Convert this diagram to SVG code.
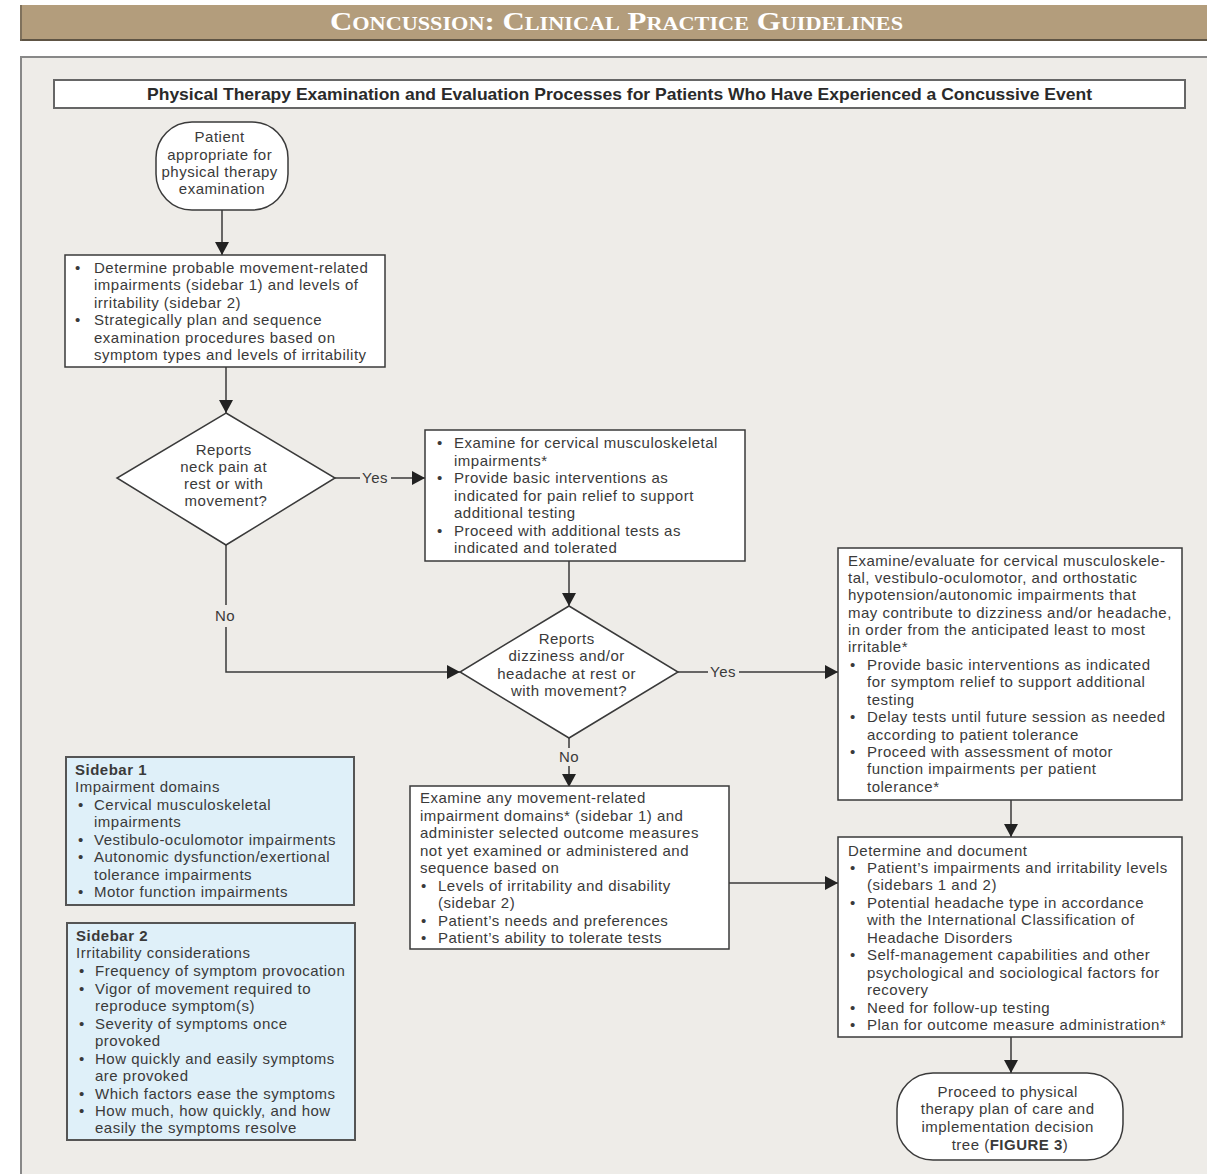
<svg xmlns="http://www.w3.org/2000/svg" width="1207" height="1174" viewBox="0 0 1207 1174">
  <style>
    text { font-family: "Liberation Sans", Arial, sans-serif; font-size: 15px; letter-spacing: 0.5px; fill: #3a3a3a; }
    .c { text-anchor: middle; }
    .b { font-weight: bold; }
    .box { fill: #ffffff; stroke: #3a3a3a; stroke-width: 1.5; }
    .side { fill: #dff0f9; stroke: #555555; stroke-width: 2; }
    .ln { fill: none; stroke: #3a3a3a; stroke-width: 1.5; }
    .hd { font-family: "Liberation Serif", "Times New Roman", serif; font-size: 25px; font-weight: bold; font-variant: small-caps; fill: #ffffff; letter-spacing: 0; }
    .tt { font-size: 17px; font-weight: bold; letter-spacing: 0; fill: #2a2a2a; }
  </style>
  <defs>
    <marker id="arr" markerUnits="userSpaceOnUse" markerWidth="14" markerHeight="14" viewBox="0 0 14 14" refX="13" refY="7" orient="auto">
      <path d="M0,0 L13,7 L0,14 Z" fill="#222222"/>
    </marker>
  </defs>

  <!-- page background -->
  <rect x="0" y="0" width="1207" height="1174" fill="#ffffff"/>

  <!-- running header -->
  <g id="header">
    <rect x="20" y="5" width="1187" height="36" fill="#b39d7c"/>
    <line x1="20" y1="40" x2="1207" y2="40" stroke="#5e5444" stroke-width="2"/>
    <line x1="21" y1="5" x2="21" y2="41" stroke="#6e6352" stroke-width="1.5"/>
    <text class="hd" x="330" y="30" textLength="573" lengthAdjust="spacingAndGlyphs">Concussion: Clinical Practice Guidelines</text>
  </g>

  <!-- figure panel -->
  <rect x="21" y="57" width="1200" height="1130" fill="#eeece8" stroke="#888888" stroke-width="2"/>

  <g id="title">
    <rect x="54" y="80" width="1131" height="28" fill="#ffffff" stroke="#666666" stroke-width="2"/>
    <text class="tt" x="147" y="100" textLength="945" lengthAdjust="spacingAndGlyphs">Physical Therapy Examination and Evaluation Processes for Patients Who Have Experienced a Concussive Event</text>
  </g>

  <!-- connectors -->
  <g id="connectors">
    <line class="ln" x1="222" y1="210" x2="222" y2="255" marker-end="url(#arr)"/>
    <line class="ln" x1="226" y1="367" x2="226" y2="413" marker-end="url(#arr)"/>
    <line class="ln" x1="335" y1="478" x2="360" y2="478"/>
    <line class="ln" x1="391" y1="478" x2="425" y2="478" marker-end="url(#arr)"/>
    <text x="362" y="483">Yes</text>
    <polyline class="ln" points="226,545 226,605"/>
    <polyline class="ln" points="226,627 226,672 460,672" marker-end="url(#arr)"/>
    <text class="c" x="225" y="621">No</text>
    <line class="ln" x1="569" y1="561" x2="569" y2="606" marker-end="url(#arr)"/>
    <line class="ln" x1="678" y1="672" x2="708" y2="672"/>
    <line class="ln" x1="739" y1="672" x2="838" y2="672" marker-end="url(#arr)"/>
    <text x="710" y="677">Yes</text>
    <line class="ln" x1="569" y1="738" x2="569" y2="748"/>
    <line class="ln" x1="569" y1="766" x2="569" y2="787" marker-end="url(#arr)"/>
    <text class="c" x="569" y="762">No</text>
    <line class="ln" x1="729" y1="883" x2="838" y2="883" marker-end="url(#arr)"/>
    <line class="ln" x1="1011" y1="800" x2="1011" y2="837" marker-end="url(#arr)"/>
    <line class="ln" x1="1011" y1="1037" x2="1011" y2="1073" marker-end="url(#arr)"/>
  </g>

  <!-- start terminator -->
  <g id="start">
    <rect class="box" x="156" y="122" width="132" height="88" rx="36" ry="36"/>
    <text class="c">
      <tspan x="222" y="142">Patient</tspan>
      <tspan x="222" y="160">appropriate for</tspan>
      <tspan x="222" y="177">physical therapy</tspan>
      <tspan x="222" y="194">examination</tspan>
    </text>
  </g>

  <!-- initial planning box -->
  <g id="plan">
    <rect class="box" x="65" y="255" width="320" height="112"/>
    <text>
      <tspan x="75" y="273">•</tspan><tspan x="94" y="273">Determine probable movement-related</tspan>
      <tspan x="94" y="290">impairments (sidebar 1) and levels of</tspan>
      <tspan x="94" y="308">irritability (sidebar 2)</tspan>
      <tspan x="75" y="325">•</tspan><tspan x="94" y="325">Strategically plan and sequence</tspan>
      <tspan x="94" y="343">examination procedures based on</tspan>
      <tspan x="94" y="360">symptom types and levels of irritability</tspan>
    </text>
  </g>

  <!-- decision: neck pain -->
  <g id="neck-pain">
    <polygon class="box" points="226,413 335,478 226,545 117,478"/>
    <text class="c">
      <tspan x="226" y="455">Reports</tspan>
      <tspan x="226" y="472">neck pain at</tspan>
      <tspan x="226" y="489">rest or with</tspan>
      <tspan x="226" y="506">movement?</tspan>
    </text>
  </g>

  <!-- cervical examination box -->
  <g id="cervical">
    <rect class="box" x="425" y="430" width="320" height="131"/>
    <text>
      <tspan x="437" y="448">•</tspan><tspan x="454" y="448">Examine for cervical musculoskeletal</tspan>
      <tspan x="454" y="466">impairments*</tspan>
      <tspan x="437" y="483">•</tspan><tspan x="454" y="483">Provide basic interventions as</tspan>
      <tspan x="454" y="501">indicated for pain relief to support</tspan>
      <tspan x="454" y="518">additional testing</tspan>
      <tspan x="437" y="536">•</tspan><tspan x="454" y="536">Proceed with additional tests as</tspan>
      <tspan x="454" y="553">indicated and tolerated</tspan>
    </text>
  </g>

  <!-- decision: dizziness / headache -->
  <g id="dizziness">
    <polygon class="box" points="569,606 678,672 569,738 460,672"/>
    <text class="c">
      <tspan x="569" y="644">Reports</tspan>
      <tspan x="569" y="661">dizziness and/or</tspan>
      <tspan x="569" y="679">headache at rest or</tspan>
      <tspan x="569" y="696">with movement?</tspan>
    </text>
  </g>

  <!-- dizziness / headache evaluation box -->
  <g id="evaluate">
    <rect class="box" x="838" y="548" width="344" height="252"/>
    <text>
      <tspan x="848" y="566">Examine/evaluate for cervical musculoskele-</tspan>
      <tspan x="848" y="583">tal, vestibulo-oculomotor, and orthostatic</tspan>
      <tspan x="848" y="600">hypotension/autonomic impairments that</tspan>
      <tspan x="848" y="618">may contribute to dizziness and/or headache,</tspan>
      <tspan x="848" y="635">in order from the anticipated least to most</tspan>
      <tspan x="848" y="652">irritable*</tspan>
      <tspan x="850" y="670">•</tspan><tspan x="867" y="670">Provide basic interventions as indicated</tspan>
      <tspan x="867" y="687">for symptom relief to support additional</tspan>
      <tspan x="867" y="705">testing</tspan>
      <tspan x="850" y="722">•</tspan><tspan x="867" y="722">Delay tests until future session as needed</tspan>
      <tspan x="867" y="740">according to patient tolerance</tspan>
      <tspan x="850" y="757">•</tspan><tspan x="867" y="757">Proceed with assessment of motor</tspan>
      <tspan x="867" y="774">function impairments per patient</tspan>
      <tspan x="867" y="792">tolerance*</tspan>
    </text>
  </g>

  <!-- remaining domains box -->
  <g id="remaining">
    <rect class="box" x="410" y="786" width="319" height="163"/>
    <text>
      <tspan x="420" y="803">Examine any movement-related</tspan>
      <tspan x="420" y="821">impairment domains* (sidebar 1) and</tspan>
      <tspan x="420" y="838">administer selected outcome measures</tspan>
      <tspan x="420" y="856">not yet examined or administered and</tspan>
      <tspan x="420" y="873">sequence based on</tspan>
      <tspan x="421" y="891">•</tspan><tspan x="438" y="891">Levels of irritability and disability</tspan>
      <tspan x="438" y="908">(sidebar 2)</tspan>
      <tspan x="421" y="926">•</tspan><tspan x="438" y="926">Patient’s needs and preferences</tspan>
      <tspan x="421" y="943">•</tspan><tspan x="438" y="943">Patient’s ability to tolerate tests</tspan>
    </text>
  </g>

  <!-- documentation box -->
  <g id="document">
    <rect class="box" x="838" y="837" width="344" height="200"/>
    <text>
      <tspan x="848" y="856">Determine and document</tspan>
      <tspan x="850" y="873">•</tspan><tspan x="867" y="873">Patient’s impairments and irritability levels</tspan>
      <tspan x="867" y="890">(sidebars 1 and 2)</tspan>
      <tspan x="850" y="908">•</tspan><tspan x="867" y="908">Potential headache type in accordance</tspan>
      <tspan x="867" y="925">with the International Classification of</tspan>
      <tspan x="867" y="943">Headache Disorders</tspan>
      <tspan x="850" y="960">•</tspan><tspan x="867" y="960">Self-management capabilities and other</tspan>
      <tspan x="867" y="978">psychological and sociological factors for</tspan>
      <tspan x="867" y="995">recovery</tspan>
      <tspan x="850" y="1013">•</tspan><tspan x="867" y="1013">Need for follow-up testing</tspan>
      <tspan x="850" y="1030">•</tspan><tspan x="867" y="1030">Plan for outcome measure administration*</tspan>
    </text>
  </g>

  <!-- end terminator -->
  <g id="end">
    <rect class="box" x="897" y="1073" width="226" height="87" rx="36" ry="36"/>
    <text class="c">
      <tspan x="1010" y="1097">Proceed to physical</tspan>
      <tspan x="1010" y="1114">therapy plan of care and</tspan>
      <tspan x="1010" y="1132">implementation decision</tspan>
      <tspan x="1010" y="1150">tree (<tspan class="b">FIGURE 3</tspan>)</tspan>
    </text>
  </g>

  <!-- sidebar 1 -->
  <g id="sidebar1">
    <rect class="side" x="66" y="757" width="288" height="148"/>
    <text>
      <tspan class="b" x="75" y="775">Sidebar 1</tspan>
      <tspan x="75" y="792">Impairment domains</tspan>
      <tspan x="78" y="810">•</tspan><tspan x="94" y="810">Cervical musculoskeletal</tspan>
      <tspan x="94" y="827">impairments</tspan>
      <tspan x="78" y="845">•</tspan><tspan x="94" y="845">Vestibulo-oculomotor impairments</tspan>
      <tspan x="78" y="862">•</tspan><tspan x="94" y="862">Autonomic dysfunction/exertional</tspan>
      <tspan x="94" y="880">tolerance impairments</tspan>
      <tspan x="78" y="897">•</tspan><tspan x="94" y="897">Motor function impairments</tspan>
    </text>
  </g>

  <!-- sidebar 2 -->
  <g id="sidebar2">
    <rect class="side" x="67" y="923" width="288" height="217"/>
    <text>
      <tspan class="b" x="76" y="941">Sidebar 2</tspan>
      <tspan x="76" y="958">Irritability considerations</tspan>
      <tspan x="79" y="976">•</tspan><tspan x="95" y="976">Frequency of symptom provocation</tspan>
      <tspan x="79" y="994">•</tspan><tspan x="95" y="994">Vigor of movement required to</tspan>
      <tspan x="95" y="1011">reproduce symptom(s)</tspan>
      <tspan x="79" y="1029">•</tspan><tspan x="95" y="1029">Severity of symptoms once</tspan>
      <tspan x="95" y="1046">provoked</tspan>
      <tspan x="79" y="1064">•</tspan><tspan x="95" y="1064">How quickly and easily symptoms</tspan>
      <tspan x="95" y="1081">are provoked</tspan>
      <tspan x="79" y="1099">•</tspan><tspan x="95" y="1099">Which factors ease the symptoms</tspan>
      <tspan x="79" y="1116">•</tspan><tspan x="95" y="1116">How much, how quickly, and how</tspan>
      <tspan x="95" y="1133">easily the symptoms resolve</tspan>
    </text>
  </g>
</svg>
